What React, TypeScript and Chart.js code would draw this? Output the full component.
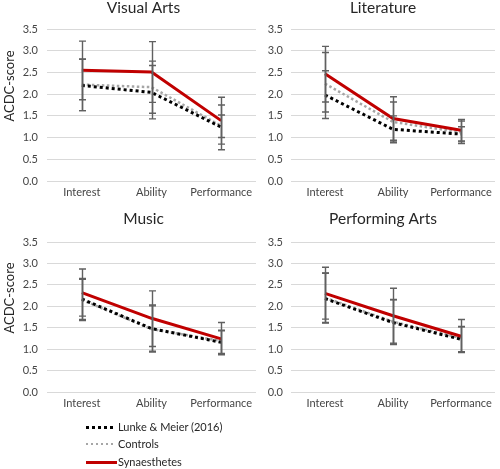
import React, { useEffect, useRef } from 'react';
import { Chart, registerables } from 'chart.js';

Chart.register(...registerables);

// ---------- data ----------
const CATEGORIES = ['Interest', 'Ability', 'Performance'];
const SERIES_NAMES = ['Lunke & Meier (2016)', 'Controls', 'Synaesthetes'];
const Y_AXIS_TITLE = 'ACDC-score';
const Y_MIN = 0;
const Y_MAX = 3.5;
const Y_STEP = 0.5;

// Visual Arts
const VA_LUNKE = [2.2, 2.04, 1.24];
const VA_CONTROLS = [2.22, 2.16, 1.27];
const VA_SYN = [2.55, 2.51, 1.39];
const VA_LUNKE_ERR = [[1.62, 2.8], [1.43, 2.66], [0.72, 1.75]];
const VA_CONTROLS_ERR = [[1.62, 2.81], [1.56, 2.76], [1.0, 1.52]];
const VA_SYN_ERR = [[1.87, 3.22], [1.81, 3.21], [0.85, 1.93]];

// Literature
const LIT_LUNKE = [1.98, 1.19, 1.08];
const LIT_CONTROLS = [2.24, 1.36, 1.12];
const LIT_SYN = [2.47, 1.44, 1.17];
const LIT_LUNKE_ERR = [[1.44, 2.54], [0.88, 1.5], [0.9, 1.25]];
const LIT_CONTROLS_ERR = [[1.59, 2.96], [0.9, 1.82], [0.86, 1.38]];
const LIT_SYN_ERR = [[1.82, 3.1], [0.94, 1.94], [0.92, 1.42]];

// Music
const MUS_LUNKE = [2.17, 1.48, 1.16];
const MUS_CONTROLS = [2.15, 1.47, 1.19];
const MUS_SYN = [2.32, 1.72, 1.24];
const MUS_LUNKE_ERR = [[1.69, 2.65], [0.95, 2.01], [0.88, 1.44]];
const MUS_CONTROLS_ERR = [[1.67, 2.63], [0.93, 2.03], [0.9, 1.43]];
const MUS_SYN_ERR = [[1.77, 2.87], [1.06, 2.36], [0.87, 1.62]];

// Performing Arts
const PA_LUNKE = [2.18, 1.62, 1.23];
const PA_CONTROLS = [2.2, 1.64, 1.26];
const PA_SYN = [2.3, 1.78, 1.3];
const PA_LUNKE_ERR = [[1.61, 2.77], [1.11, 2.15], [0.93, 1.52]];
const PA_CONTROLS_ERR = [[1.62, 2.78], [1.12, 2.16], [0.94, 1.53]];
const PA_SYN_ERR = [[1.7, 2.91], [1.14, 2.42], [0.92, 1.69]];

// ---------- styles ----------
const FONT = 'Lato';
const RED = '#C00000';
const BLACK = '#000000';
const GRAY = '#A6A6A6';
const ERR_COLOR = '#606060';
const GRID = '#D9D9D9';
const TICK_COLOR = '#454545';
const TEXT_COLOR = '#262626';

const errorBarPlugin = {
  id: 'errorBars',
  afterDatasetsDraw(chart: any) {
    const { ctx } = chart;
    const xs = chart.scales.x;
    const ys = chart.scales.y;
    const cap = 3.5;
    ctx.save();
    ctx.strokeStyle = ERR_COLOR;
    ctx.lineWidth = 1.4;
    chart.data.datasets.forEach((ds: any) => {
      (ds.errorBars || []).forEach((r: number[], i: number) => {
        const px = Math.round(xs.getPixelForValue(i)) + 0.5;
        const y1 = ys.getPixelForValue(r[0]);
        const y2 = ys.getPixelForValue(r[1]);
        ctx.beginPath();
        ctx.moveTo(px, y1);
        ctx.lineTo(px, y2);
        ctx.moveTo(px - cap, y1);
        ctx.lineTo(px + cap, y1);
        ctx.moveTo(px - cap, y2);
        ctx.lineTo(px + cap, y2);
        ctx.stroke();
      });
    });
    ctx.restore();
  },
};

const yTitlePlugin = {
  id: 'yTitle',
  afterDraw(chart: any, _args: any, opts: any) {
    if (!opts || !opts.text) return;
    const { ctx, chartArea } = chart;
    ctx.save();
    ctx.translate(opts.x, (chartArea.top + chartArea.bottom) / 2 + opts.dy);
    ctx.rotate(-Math.PI / 2);
    ctx.textAlign = 'center';
    ctx.textBaseline = 'middle';
    ctx.font = `13px ${FONT}`;
    ctx.fillStyle = TEXT_COLOR;
    ctx.fillText(opts.text, 0, 0);
    ctx.restore();
  },
};

type PanelProps = {
  title: string;
  lunke: number[];
  controls: number[];
  syn: number[];
  lunkeErr: number[][];
  controlsErr: number[][];
  synErr: number[][];
  left: number;
  top: number;
  width: number;
  height: number;
  yWidth: number;
  tickPad: number;
  rightPad: number;
  titleBottom: number;
  showYTitle: boolean;
};

function Panel(p: PanelProps) {
  const ref = useRef<HTMLCanvasElement | null>(null);
  useEffect(() => {
    if (!ref.current) return;
    const tickFont = { family: FONT, size: 11 };
    const chart = new Chart(ref.current, {
      type: 'line',
      data: {
        labels: CATEGORIES,
        datasets: [
          {
            label: SERIES_NAMES[2],
            data: p.syn,
            borderColor: RED,
            borderWidth: 3,
            pointRadius: 0,
            tension: 0,
            fill: false,
            order: 0,
            errorBars: p.synErr,
          } as any,
          {
            label: SERIES_NAMES[0],
            data: p.lunke,
            borderColor: BLACK,
            borderWidth: 3,
            borderDash: [3, 3],
            pointRadius: 0,
            tension: 0,
            fill: false,
            order: 1,
            errorBars: p.lunkeErr,
          } as any,
          {
            label: SERIES_NAMES[1],
            data: p.controls,
            borderColor: GRAY,
            borderWidth: 2.5,
            borderDash: [2.5, 2.5],
            pointRadius: 0,
            tension: 0,
            fill: false,
            order: 2,
            errorBars: p.controlsErr,
          } as any,
        ],
      },
      options: {
        responsive: false,
        animation: false,
        layout: { padding: 0 },
        plugins: {
          legend: { display: false },
          tooltip: { enabled: false },
          title: {
            display: true,
            text: p.title,
            color: TEXT_COLOR,
            font: { family: FONT, size: 15.5, weight: 'normal', lineHeight: 16 / 15.5 },
            padding: { top: 0, bottom: p.titleBottom },
          },
          yTitle: p.showYTitle ? { text: Y_AXIS_TITLE, x: 10, dy: -19 } : { text: '' },
        } as any,
        scales: {
          x: {
            type: 'category',
            offset: true,
            grid: { display: false, drawTicks: false },
            border: { display: false },
            ticks: {
              color: TICK_COLOR,
              font: tickFont,
              padding: 5,
              maxRotation: 0,
              autoSkip: false,
            },
            afterFit: (s: any) => {
              s.height = 29;
            },
          },
          y: {
            min: Y_MIN,
            max: Y_MAX,
            grid: { color: GRID, lineWidth: 1, drawTicks: false },
            border: { display: false },
            ticks: {
              stepSize: Y_STEP,
              color: TICK_COLOR,
              font: tickFont,
              padding: p.tickPad,
              callback: (v: any) => Number(v).toFixed(1),
            },
            afterFit: (s: any) => {
              s.width = p.yWidth;
            },
          },
          yR: {
            position: 'right',
            min: 0,
            max: 1,
            grid: { display: false, drawTicks: false },
            border: { display: false },
            ticks: { display: false },
            afterFit: (s: any) => {
              s.width = p.rightPad;
            },
          },
        } as any,
      },
      plugins: [errorBarPlugin, yTitlePlugin],
    });
    return () => chart.destroy();
  }, []);
  return (
    <canvas
      ref={ref}
      width={p.width}
      height={p.height}
      style={{ position: 'absolute', left: p.left, top: p.top, width: p.width, height: p.height }}
    />
  );
}

function LegendItem({ kind, label, top }: { kind: number; label: string; top: number }) {
  let sample: React.CSSProperties;
  if (kind === 0) {
    sample = {
      height: 3,
      background: `repeating-linear-gradient(to right, ${BLACK} 0 3px, transparent 3px 6px)`,
    };
  } else if (kind === 1) {
    sample = {
      height: 2.5,
      background: `repeating-linear-gradient(to right, ${GRAY} 0 2.5px, transparent 2.5px 5px)`,
    };
  } else {
    sample = { height: 3, background: RED };
  }
  return (
    <div style={{ position: 'absolute', left: 86, top: top - 8, height: 16, width: 200 }}>
      <div
        style={{
          position: 'absolute',
          left: 0,
          top: 8 - (sample.height as number) / 2,
          width: kind === 2 ? 31 : 29,
          ...sample,
        }}
      />
      <div
        style={{
          position: 'absolute',
          left: 32,
          top: 0,
          lineHeight: '16px',
          fontFamily: FONT,
          fontSize: 11,
          color: TEXT_COLOR,
          whiteSpace: 'nowrap',
        }}
      >
        {label}
      </div>
    </div>
  );
}

export default function App() {
  return (
    <div
      style={{
        position: 'absolute',
        left: 0,
        top: 0,
        width: 500,
        height: 469,
        background: '#ffffff',
        overflow: 'hidden',
      }}
    >
      <Panel
        title="Visual Arts"
        lunke={VA_LUNKE}
        controls={VA_CONTROLS}
        syn={VA_SYN}
        lunkeErr={VA_LUNKE_ERR}
        controlsErr={VA_CONTROLS_ERR}
        synErr={VA_SYN_ERR}
        left={0}
        top={0}
        width={287}
        height={210}
        yWidth={47}
        tickPad={9}
        rightPad={31}
        titleBottom={13}
        showYTitle={true}
      />
      <Panel
        title="Literature"
        lunke={LIT_LUNKE}
        controls={LIT_CONTROLS}
        syn={LIT_SYN}
        lunkeErr={LIT_LUNKE_ERR}
        controlsErr={LIT_CONTROLS_ERR}
        synErr={LIT_SYN_ERR}
        left={266}
        top={0}
        width={234}
        height={210}
        yWidth={25}
        tickPad={8}
        rightPad={5}
        titleBottom={13}
        showYTitle={false}
      />
      <Panel
        title="Music"
        lunke={MUS_LUNKE}
        controls={MUS_CONTROLS}
        syn={MUS_SYN}
        lunkeErr={MUS_LUNKE_ERR}
        controlsErr={MUS_CONTROLS_ERR}
        synErr={MUS_SYN_ERR}
        left={0}
        top={211}
        width={287}
        height={210}
        yWidth={47}
        tickPad={9}
        rightPad={31}
        titleBottom={15}
        showYTitle={true}
      />
      <Panel
        title="Performing Arts"
        lunke={PA_LUNKE}
        controls={PA_CONTROLS}
        syn={PA_SYN}
        lunkeErr={PA_LUNKE_ERR}
        controlsErr={PA_CONTROLS_ERR}
        synErr={PA_SYN_ERR}
        left={266}
        top={211}
        width={234}
        height={210}
        yWidth={25}
        tickPad={8}
        rightPad={5}
        titleBottom={15}
        showYTitle={false}
      />
      <LegendItem kind={0} label={SERIES_NAMES[0]} top={427} />
      <LegendItem kind={1} label={SERIES_NAMES[1]} top={444} />
      <LegendItem kind={2} label={SERIES_NAMES[2]} top={462} />
    </div>
  );
}
